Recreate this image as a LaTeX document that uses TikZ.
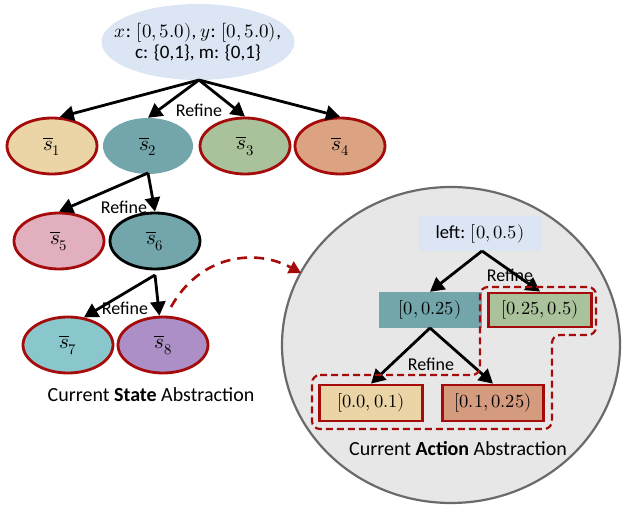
\documentclass[tikz,border=0pt]{standalone}
\usepackage{fontspec}
\usepackage{unicode-math}
\setmainfont{Carlito}
\setmathfont{Latin Modern Math}
\usetikzlibrary{arrows.meta,shapes.geometric}
\definecolor{topblue}{HTML}{DCE5F3}
\definecolor{redb}{HTML}{A50B0B}
\definecolor{tanf}{HTML}{EBD5A6}
\definecolor{tealf}{HTML}{73A6AB}
\definecolor{greenf}{HTML}{A9C29B}
\definecolor{salmonf}{HTML}{DCA383}
\definecolor{pinkf}{HTML}{E2AFBF}
\definecolor{cyanf}{HTML}{8AC7CC}
\definecolor{purplef}{HTML}{AC8FC6}
\definecolor{brickf}{HTML}{D49B7E}
\definecolor{circf}{HTML}{E7E7E7}
\definecolor{circb}{HTML}{6A6A6A}
\tikzset{
  txt/.style={font=\fontsize{20}{24}\selectfont},
  stnode/.style={ellipse, minimum width=90pt, minimum height=56pt, inner sep=0pt, font=\fontsize{21}{24}\selectfont},
  redrim/.style={draw=redb, line width=2.8pt},
  boxnode/.style={rectangle, minimum width=103pt, minimum height=36pt, inner sep=0pt, font=\fontsize{18.5}{21}\selectfont},
  arr/.style={draw=black, line width=2.8pt, -{Triangle[length=14pt,width=15pt]}},
  lbl/.style={font=\fontsize{18}{21}\selectfont, inner sep=1pt},
}
\begin{document}
\begin{tikzpicture}[x=1pt,y=-1pt]
\useasboundingbox (0,0) rectangle (622,508);
% big circle
\node[ellipse, draw=circb, fill=circf, line width=2.2pt, minimum width=338pt, minimum height=316pt, inner sep=0pt] (circ) at (451,345) {};
% top ellipse
\node[ellipse, fill=topblue, minimum width=193pt, minimum height=76pt, inner sep=0pt] (top) at (198,42) {};
\node[align=center, inner sep=0pt, font=\fontsize{19}{22}\selectfont] (toptxt) at (top.center) {$x$: $[0,5.0)$, $y$: $[0,5.0)$,\\[-1pt] c: \{0,1\}, m: \{0,1\}};
% state nodes
\node[stnode, fill=tanf, redrim] (s1) at (52,146) {$\overline{s}_1$};
\node[stnode, fill=tealf] (s2) at (148,146) {$\overline{s}_2$};
\node[stnode, fill=greenf, redrim] (s3) at (245,146) {$\overline{s}_3$};
\node[stnode, fill=salmonf, redrim] (s4) at (340,146) {$\overline{s}_4$};
\node[stnode, fill=pinkf, redrim] (s5) at (59,241) {$\overline{s}_5$};
\node[stnode, fill=tealf, draw=black, line width=2.8pt] (s6) at (155,241) {$\overline{s}_6$};
\node[stnode, fill=cyanf, redrim] (s7) at (68,345) {$\overline{s}_7$};
\node[stnode, fill=purplef, redrim] (s8) at (163,345) {$\overline{s}_8$};
\coordinate (tb) at (199,80);
\draw[arr] (tb) -- (s1.75);
\draw[arr] (tb) -- (s2.north);
\draw[arr] (tb) -- (s3.north);
\draw[arr] (tb) -- (s4.north);
\node[lbl] (r1) at (199,110) {Refine};
\coordinate (s2b) at (148,173);
\draw[arr] (s2b) -- (s5.north);
\draw[arr] (s2b) -- (s6.north);
\node[lbl] (r2) at (124,207) {Refine};
\coordinate (s6b) at (155,275);
\draw[arr] (s6b) -- (s7.60);
\draw[arr] (s6b) -- (s8.97);
\node[lbl] (r3) at (125,308) {Refine};
\node[txt] (stcap) at (151,395) {Current \textbf{State} Abstraction};
% dashed curved arrow
\coordinate (cs) at (171,307);
\coordinate (ce) at (301,273);
\draw[draw=redb, line width=2.6pt, dash pattern=on 10pt off 7pt, -{Triangle[length=12pt,width=13pt]}] (cs) .. controls (200,255) and (255,248) .. (ce);
% action nodes
\node[boxnode, fill=topblue, minimum width=122pt, minimum height=35pt] (left) at (480,234) {left: $[0,0.5)$};
\node[boxnode, fill=tealf] (a1) at (430,310) {$[0,0.25)$};
\node[boxnode, fill=greenf, draw=redb, line width=2.8pt, minimum width=103pt, minimum height=34pt] (a2) at (540,310) {$[0.25,0.5)$};
\node[boxnode, fill=tanf, draw=redb, line width=2.8pt, minimum width=103pt] (a3) at (371,403) {$[0.0,0.1)$};
\node[boxnode, fill=brickf, draw=redb, line width=2.8pt, minimum width=101pt] (a4) at (493,403) {$[0.1,0.25)$};
\coordinate (lb) at (482,251);
\draw[arr] (lb) -- (a1.north);
\draw[arr] (lb) -- (a2.north);
\node[lbl] (r4) at (510,275) {Refine};
\coordinate (a1b) at (430,328);
\draw[arr] (a1b) -- (a3.north);
\draw[arr] (a1b) -- (a4.north);
\node[lbl] (r5) at (431,364) {Refine};
% dashed region
\draw[draw=redb, line width=2.2pt, dash pattern=on 7pt off 4pt, rounded corners=8pt]
  (312,375) -- (480,375) -- (480,287) -- (596,287) -- (596,335) -- (552,335) -- (552,429) -- (312,429) -- cycle;
\node[txt] (accap) at (458,449) {Current \textbf{Action} Abstraction};
\end{tikzpicture}
\end{document}
